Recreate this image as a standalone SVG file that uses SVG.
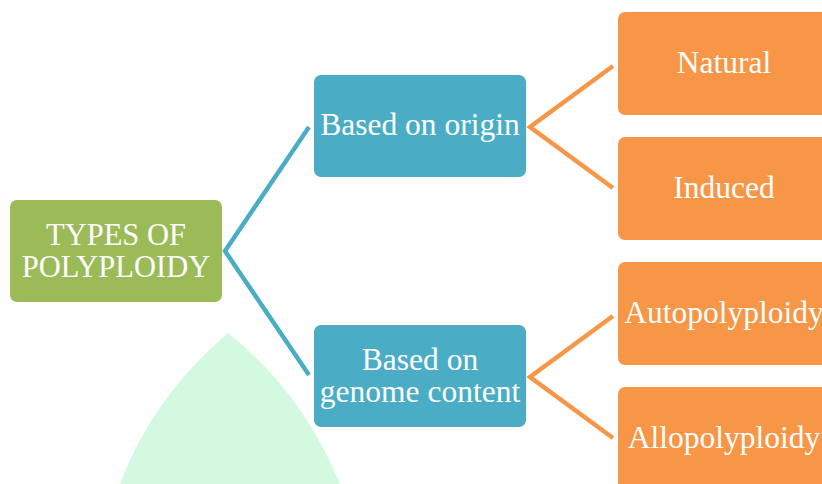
<svg xmlns="http://www.w3.org/2000/svg" width="822" height="484" viewBox="0 0 822 484">
<style>
.t{font-family:"Liberation Serif","Times New Roman",serif;font-size:31.5px;fill:#ffffff;text-anchor:middle}
.g{fill:#9BBB59}
.b{fill:#4BACC6}
.o{fill:#F79646}
.cb{stroke:#4BACC6;stroke-width:4.5;fill:none}
.co{stroke:#F79646;stroke-width:4.5;fill:none}
</style>
<rect width="822" height="484" fill="#ffffff"/>
<path id="shape" d="M120,484 Q152,398 228,333 Q302,392 340,484 Z" fill="#D3F9E1"/>
<g id="connectors">
<polyline class="cb" points="309,127 225,251 309,375"/>
<polyline class="co" points="613,66 530,127 613,188"/>
<polyline class="co" points="613,316 530,377 613,438"/>
</g>
<g id="root">
<rect class="g" x="10" y="200" width="212" height="102" rx="7"/>
<text class="t" x="116" y="245" style="font-size:30.5px">TYPES OF</text>
<text class="t" x="116" y="277" style="font-size:30.5px">POLYPLOIDY</text>
</g>
<g id="origin">
<rect class="b" x="314" y="75" width="212" height="102" rx="7"/>
<text class="t" x="420" y="135">Based on origin</text>
</g>
<g id="genome">
<rect class="b" x="314" y="325" width="212" height="102" rx="7"/>
<text class="t" x="420" y="370">Based on</text>
<text class="t" x="420" y="402">genome content</text>
</g>
<g id="natural">
<rect class="o" x="618" y="12" width="212" height="103" rx="7"/>
<text class="t" x="724" y="73">Natural</text>
</g>
<g id="induced">
<rect class="o" x="618" y="137" width="212" height="103" rx="7"/>
<text class="t" x="724" y="198">Induced</text>
</g>
<g id="auto">
<rect class="o" x="618" y="262" width="212" height="103" rx="7"/>
<text class="t" x="724" y="323">Autopolyploidy</text>
</g>
<g id="allo">
<rect class="o" x="618" y="387" width="212" height="103" rx="7"/>
<text class="t" x="724" y="448">Allopolyploidy</text>
</g>
</svg>
